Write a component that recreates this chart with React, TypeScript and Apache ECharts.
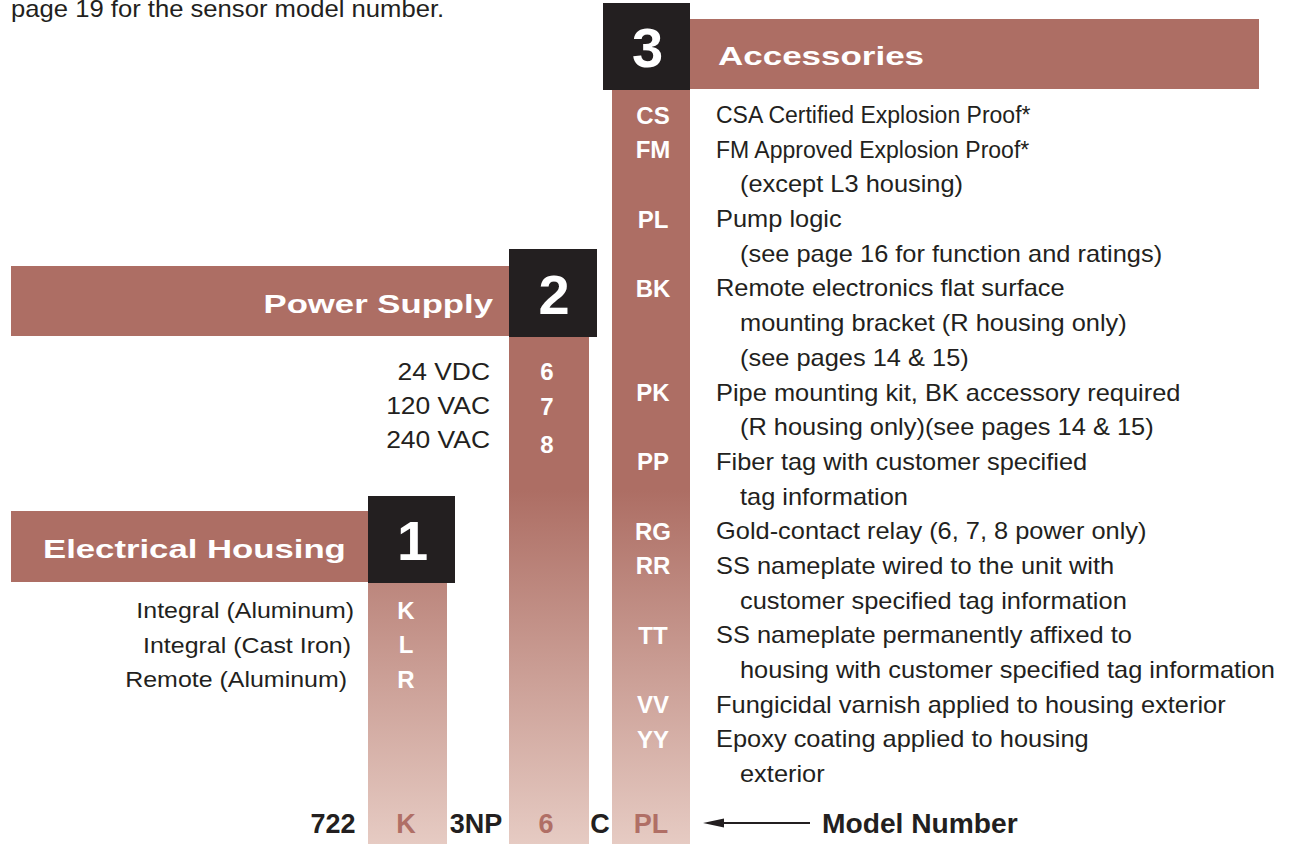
import React, { useEffect, useRef } from "react";
import * as echarts from "echarts";

// ---- content ----
const introText = "page 19 for the sensor model number.";
const sectionTitles = ["Electrical Housing", "Power Supply", "Accessories"];
const sectionNumbers = ["1", "2", "3"];

const housingCodes = ["K", "L", "R"];
const housingLabels = ["Integral (Aluminum)", "Integral (Cast Iron)", "Remote (Aluminum)"];

const powerCodes = ["6", "7", "8"];
const powerLabels = ["24 VDC", "120 VAC", "240 VAC"];

const accessoryCodes = ["CS", "FM", "PL", "BK", "PK", "PP", "RG", "RR", "TT", "VV", "YY"];
const accessoryLines: string[][] = [
  ["CSA Certified Explosion Proof*"],
  ["FM Approved Explosion Proof*", "(except L3 housing)"],
  ["Pump logic", "(see page 16 for function and ratings)"],
  ["Remote electronics flat surface", "mounting bracket (R housing only)", "(see pages 14 & 15)"],
  ["Pipe mounting kit, BK accessory required", "(R housing only)(see pages 14 & 15)"],
  ["Fiber tag with customer specified", "tag information"],
  ["Gold-contact relay (6, 7, 8 power only)"],
  ["SS nameplate wired to the unit with", "customer specified tag information"],
  ["SS nameplate permanently affixed to", "housing with customer specified tag information"],
  ["Fungicidal varnish applied to housing exterior"],
  ["Epoxy coating applied to housing", "exterior"],
];
// the two "Explosion Proof*" lines are set tighter in the original
const tightAccessory = [0, 1];

const modelParts = ["722", "K", "3NP", "6", "C", "PL"];
const modelPartIsCode = [false, true, false, true, false, true];
const modelLabel = "Model Number";

// ---- styling ----
const BRICK = "#ad6e64";
const BLACK = "#231f20";
const FONT = "'Liberation Sans', Arial, Helvetica, sans-serif";
const BODY_SCALE = 1.105;

export default function App() {
  const ref = useRef<HTMLDivElement>(null);

  useEffect(() => {
    if (!ref.current) return;
    const chart = echarts.init(ref.current, undefined, { renderer: "svg" });

    const grad = () =>
      new echarts.graphic.LinearGradient(
        0, 490, 0, 844,
        [
          { offset: 0, color: BRICK },
          { offset: 1, color: "#e6cbc3" },
        ],
        true
      );

    const els: any[] = [];
    const text = (
      t: string, x: number, y: number, size: number, opts: any = {}
    ) => {
      const { bold, fill, align, scaleX } = opts;
      els.push({
        type: "text",
        x, y,
        scaleX: scaleX || 1,
        style: {
          text: t, x: 0, y: 0,
          font: `${bold ? "bold " : ""}${size}px ${FONT}`,
          fill: fill || BLACK,
          align: align || "left",
          verticalAlign: "middle",
        },
        z: 10,
      });
    };

    // intro line (cut at the top, as in the original page)
    text(introText, 11, 9, 23, { scaleX: 1.115 });

    // columns (gradients)
    const cols = [
      { x: 368, w: 79, top: 582 },
      { x: 509, w: 80, top: 336 },
      { x: 612, w: 78, top: 89 },
    ];
    cols.forEach((c) =>
      els.push({ type: "rect", shape: { x: c.x, y: c.top, width: c.w, height: 844 - c.top }, style: { fill: grad() }, z: 1 })
    );

    // header bars
    const bars = [
      { x: 11, y: 511, w: 357, h: 71 },
      { x: 11, y: 266, w: 498, h: 70 },
      { x: 690, y: 19, w: 569, h: 70 },
    ];
    bars.forEach((b) =>
      els.push({ type: "rect", shape: { x: b.x, y: b.y, width: b.w, height: b.h }, style: { fill: BRICK }, z: 2 })
    );

    // black number boxes
    const boxes = [
      { x: 368, y: 496, s: 87 },
      { x: 509, y: 249, s: 88 },
      { x: 603, y: 3, s: 87 },
    ];
    boxes.forEach((b, i) => {
      els.push({ type: "rect", shape: { x: b.x, y: b.y, width: b.s, height: b.s }, style: { fill: BLACK }, z: 3 });
      text(sectionNumbers[i], b.x + b.s / 2 + 1, b.y + b.s / 2 + 1, 56, { bold: true, fill: "#fff", align: "center" });
    });

    // section titles (extended bold)
    text(sectionTitles[0], 43, 549, 26.5, { bold: true, fill: "#fff", scaleX: 1.31 });
    text(sectionTitles[1], 493, 304, 26.5, { bold: true, fill: "#fff", align: "right", scaleX: 1.31 });
    text(sectionTitles[2], 718, 56, 26.5, { bold: true, fill: "#fff", scaleX: 1.32 });

    // housing
    const housingRight = [354, 351, 347];
    housingCodes.forEach((c, i) => {
      const y = 610 + 34.5 * i;
      text(c, 406, y, 24, { bold: true, fill: "#fff", align: "center" });
      text(housingLabels[i], housingRight[i], y, 23, { align: "right", scaleX: 1.085 });
    });

    // power
    const powerCodeY = [371, 406, 444];
    const powerLabelY = [372, 406, 440];
    powerCodes.forEach((c, i) => {
      text(c, 547, powerCodeY[i], 24, { bold: true, fill: "#fff", align: "center" });
      text(powerLabels[i], 490, powerLabelY[i], 23, { align: "right", scaleX: 1.15 });
    });

    // accessories
    let row = 0;
    const rowH = 34.68;
    accessoryCodes.forEach((c, i) => {
      const y0 = 115 + rowH * row;
      text(c, 653, y0, 24, { bold: true, fill: "#fff", align: "center" });
      const sx = tightAccessory.includes(i) ? 1.0 : BODY_SCALE;
      accessoryLines[i].forEach((ln, j) => {
        text(ln, j === 0 ? 716 : 740, 115 + rowH * (row + j), 23, { scaleX: j === 0 ? sx : BODY_SCALE });
      });
      row += accessoryLines[i].length;
    });

    // model number row
    const modelX = [333, 406, 476, 546, 600, 651];
    modelParts.forEach((p, i) => {
      text(p, modelX[i], 824, 27, {
        bold: true,
        fill: modelPartIsCode[i] ? "#b06f66" : BLACK,
        align: "center",
      });
    });
    els.push({ type: "line", shape: { x1: 718, y1: 823, x2: 810, y2: 823 }, style: { stroke: BLACK, lineWidth: 2 }, z: 5 });
    els.push({ type: "polygon", shape: { points: [[703, 823], [724, 818.5], [724, 827.5]] }, style: { fill: BLACK }, z: 5 });
    text(modelLabel, 822, 824, 27.5, { bold: true, scaleX: 1.025 });

    chart.setOption({ animation: false, graphic: { elements: els } });
    return () => chart.dispose();
  }, []);

  return (
    <div
      ref={ref}
      style={{ position: "fixed", left: 0, top: 0, width: 1295, height: 844, background: "#fff" }}
    />
  );
}
